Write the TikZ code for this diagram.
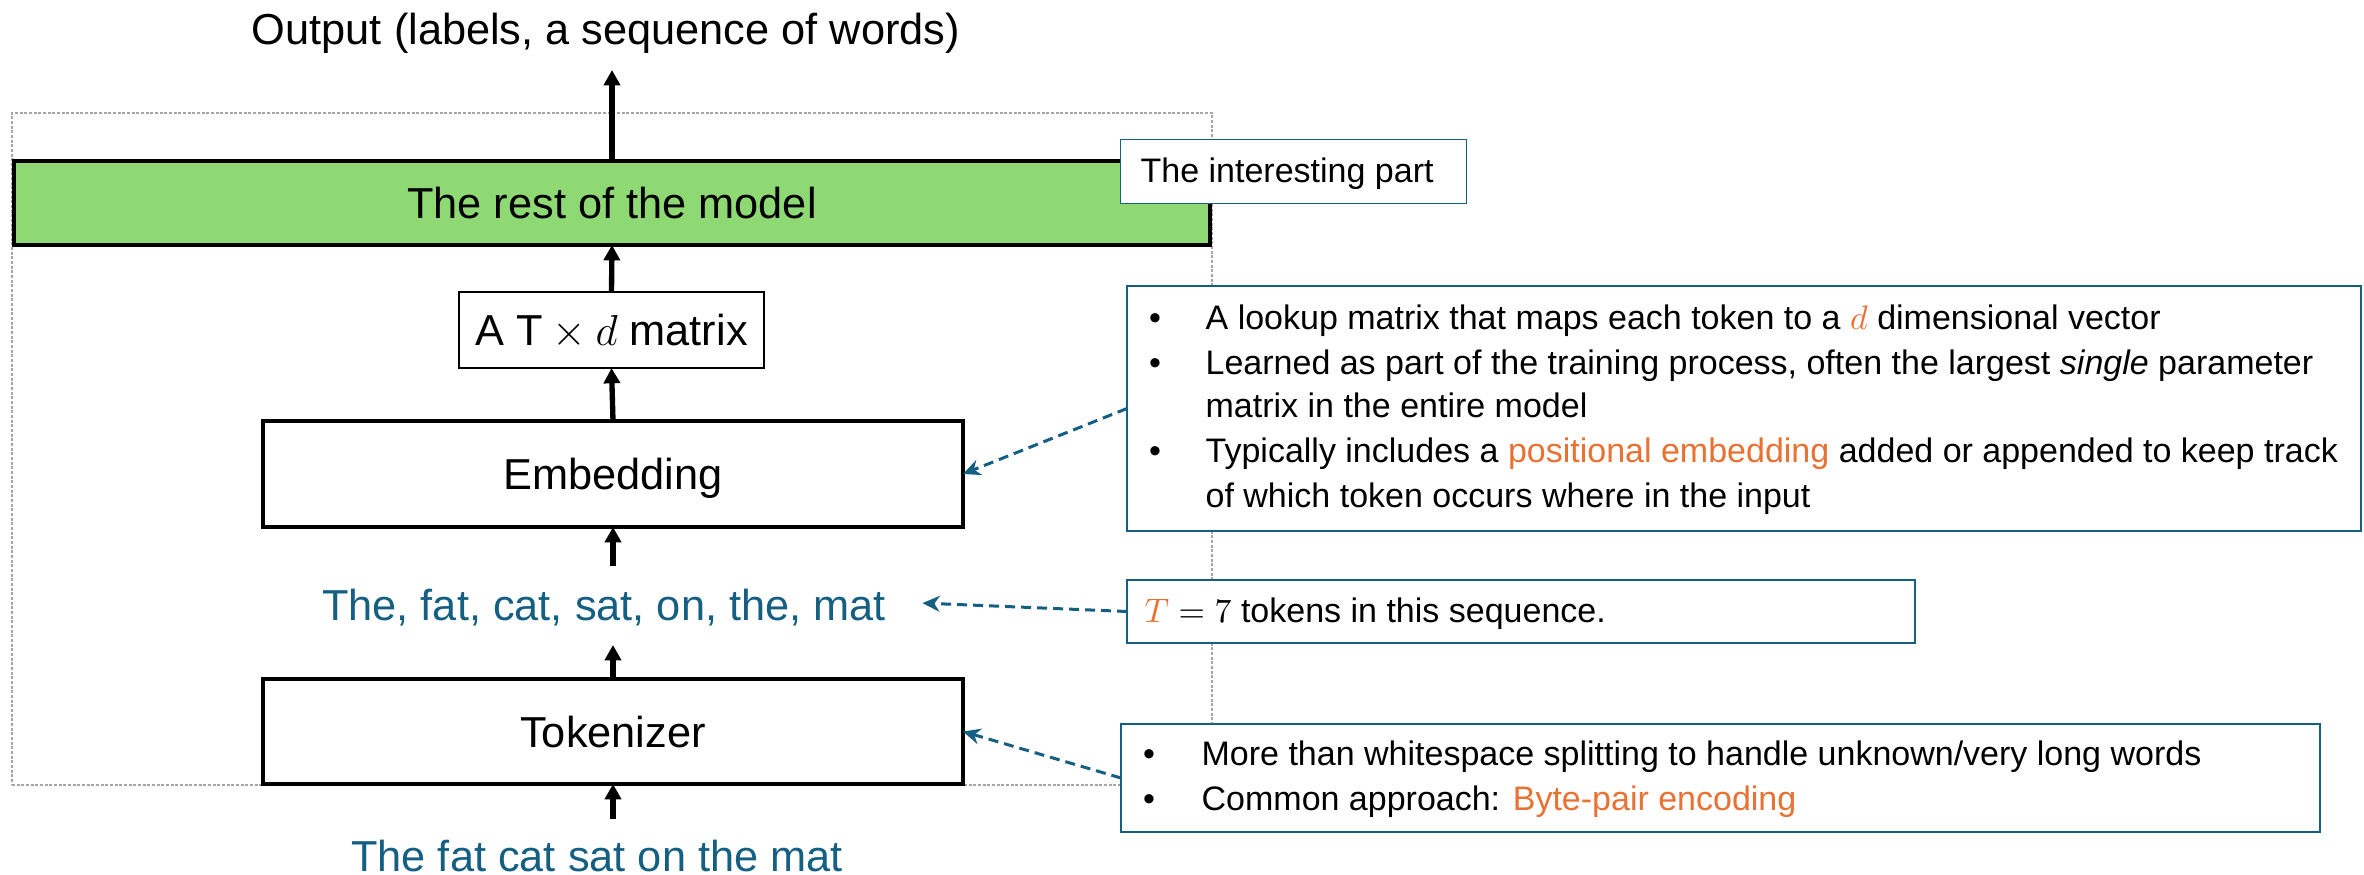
\documentclass[tikz,border=0pt]{standalone}
\usepackage{fix-cm}
\usepackage{fontspec}
\setmainfont{Liberation Sans}
\usetikzlibrary{arrows.meta,calc}

\definecolor{acc}{HTML}{156082}
\definecolor{org}{HTML}{E97132}
\definecolor{grn}{HTML}{8ED973}
\definecolor{framegray}{HTML}{A6A6A6}

\newcommand\bigtxt{\fontsize{13}{15.6}\selectfont}
\newcommand\smalltxt{\fontsize{10.2}{13.35}\selectfont}

\begin{document}
\begin{tikzpicture}[x=0.3pt, y=-0.3pt,
  dims/.style 2 args={minimum width=#1*0.3pt, minimum height=#2*0.3pt, inner sep=0pt, outer sep=0pt},
  area/.style={draw=framegray, line width=0.5pt, dash pattern=on 0.9pt off 0.5pt},
  stage/.style={draw=black, line width=1.3pt, fill=white, font=\bigtxt, text depth=0pt},
  restbox/.style={draw=black, line width=1.2pt, fill=grn, font=\bigtxt, text depth=0pt},
  matbox/.style={draw=black, line width=0.6pt, fill=white, font=\bigtxt, text depth=0pt},
  note/.style={draw=acc, line width=0.8pt, fill=white},
  big/.style={inner sep=0pt, anchor=base, font=\bigtxt},
  ln/.style={inner sep=0pt, anchor=base west, font=\smalltxt},
  bul/.style={inner sep=0pt, anchor=base, font=\smalltxt},
  flow/.style={draw=black, line width=1.6pt, -{Triangle[length=4.6pt,width=4.8pt]}},
  conn/.style={draw=acc, line width=0.9pt, dash pattern=on 3pt off 1.8pt,
               -{Stealth[length=5.2pt,width=4.8pt]}}
]
\useasboundingbox (0,0) rectangle (2364,875);

% dashed frame around the model pipeline
\node[area, dims={1200}{672}] (area) at (612,449) {};

% pipeline stages
\node[restbox, dims={1196}{84}] (model) at (612,203) {The rest of the model};
\node[matbox, dims={305}{76}] (mat) at (611.5,330) {A $\mathrm{T}\times d$ matrix};
\node[stage, dims={700}{106}] (emb) at (613,474) {Embedding};
\node[stage, dims={700}{105}] (tok) at (613,731.5) {Tokenizer};

% free-standing texts
\node[big] (out) at (606,45) {Output (labels, a sequence of words)};
\node[big, text=acc] (seq) at (604,621) {The, fat, cat, sat, on, the, mat};
\node[big, text=acc] (inp) at (597,871) {The fat cat sat on the mat};

% upward flow
\coordinate (outTip) at (612,70);
\draw[flow] (model.north) -- (outTip);
\draw[flow] (mat.north) -- (model.south);
\draw[flow] (emb.north) -- (mat.south);
\draw[flow] ($(emb.south)+(0,39)$) -- (emb.south);
\draw[flow] (tok.north) -- ($(tok.north)+(0,-34)$);
\draw[flow] ($(tok.south)+(0,35)$) -- (tok.south);

% annotation boxes
\node[note, line width=0.4pt, dims={346}{64}] (note0) at (1293.5,171.5) {};
\node[ln] (note0t) at (1140,183) {The interesting part};

\node[note, dims={1234}{245}] (note1) at (1744,408.5) {};
\node[bul] (b11) at (1155,330) {•};
\node[bul] (b12) at (1155,375) {•};
\node[bul] (b13) at (1155,463) {•};
\node[ln] (l11) at (1205,330) {A lookup matrix that maps each token to a $\textcolor{org}{d}$ dimensional vector};
\node[ln] (l12) at (1205,375) {Learned as part of the training process, often the largest \textit{single} parameter};
\node[ln] (l13) at (1205,418) {matrix in the entire model};
\node[ln] (l14) at (1205,463) {Typically includes a \textcolor{org}{positional embedding} added or appended to keep track};
\node[ln] (l15) at (1205,508) {of which token occurs where in the input};

\node[note, dims={788}{63}] (note2) at (1521,611.5) {};
\node[ln] (l21) at (1144,623) {$\textcolor{org}{T}=7$ tokens in this sequence.};

\node[note, dims={1199}{108}] (note3) at (1720.5,778) {};
\node[bul] (b31) at (1149,765) {•};
\node[bul] (b32) at (1149,810) {•};
\node[ln] (l31) at (1201,765) {More than whitespace splitting to handle unknown/very long words};
\node[ln] (l32) at (1201,810) {Common approach: \textcolor{org}{Byte-pair encoding}};

% dashed pointers from the notes
\draw[conn] (note1.west) -- (emb.east);
\draw[conn] (note2.west) -- ($(seq.east)+(36,-5)$);
\draw[conn] (note3.west) -- (tok.east);
\end{tikzpicture}
\end{document}
